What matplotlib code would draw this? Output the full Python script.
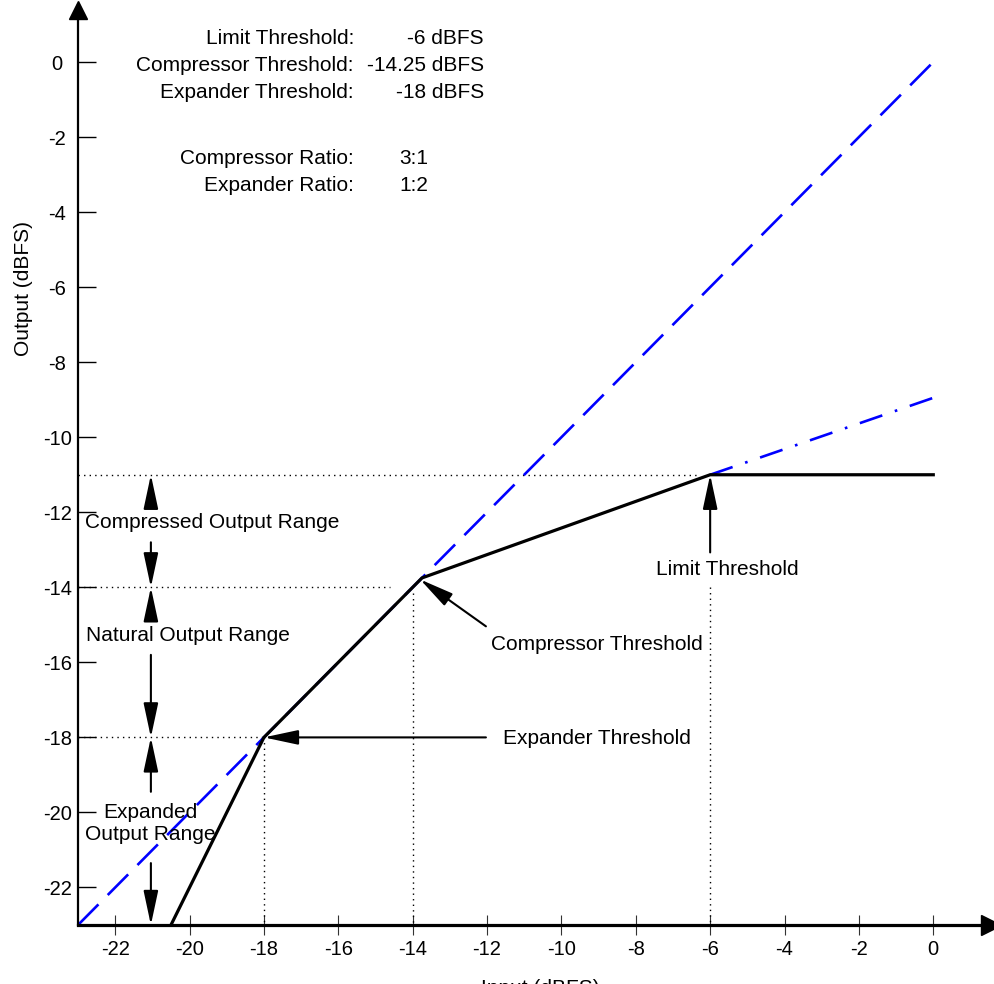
import matplotlib.pyplot as plt
import numpy as np

plt.rcParams["font.family"] = ["Liberation Sans", "DejaVu Sans"]

# transfer curve (input dBFS, output dBFS)
curve_in = [-20.5, -18, -13.75, -6, 0]
curve_out = [-23, -18, -13.75, -11, -11]
# reference lines
unity_in = [-23, 0]
unity_out = [-23, 0]
comp_ext_in = [-6, 0]
comp_ext_out = [-11, -8.95]

ticks = list(range(-22, 1, 2))

settings_labels = ["Limit Threshold:", "Compressor Threshold:", "Expander Threshold:"]
settings_values = ["-6 dBFS", "-14.25 dBFS", "-18 dBFS"]
ratio_labels = ["Compressor Ratio:", "Expander Ratio:"]
ratio_values = ["3:1", "1:2"]

XMIN, XMAX = -23, 1.66
YMIN, YMAX = -23, 1.52


def arrow(ax, start, end, lw=1.5):
    ax.annotate("", xy=end, xytext=start,
                arrowprops=dict(arrowstyle="-|>,head_length=1.5,head_width=0.32",
                                color="black", lw=lw, shrinkA=0, shrinkB=0,
                                mutation_scale=14))


def main():
    fig = plt.figure(figsize=(9.95, 9.84), dpi=100)
    ax = fig.add_axes([78 / 995, 59 / 984, 917 / 995, 920 / 984])
    ax.set_xlim(XMIN, XMAX)
    ax.set_ylim(YMIN, YMAX)
    for s in ("top", "right"):
        ax.spines[s].set_visible(False)
    ax.spines["left"].set_linewidth(1.6)
    ax.spines["bottom"].set_linewidth(2.3)
    ax.set_xticks(ticks)
    ax.set_yticks(ticks)
    ax.set_xticklabels([str(t) for t in ticks], fontsize=14.5)
    ax.set_yticklabels([str(t) for t in ticks], fontsize=14.5, ha="center")
    ax.tick_params(axis="x", direction="inout", length=14, width=0.8, pad=4, color="#333333")
    ax.tick_params(axis="y", direction="in", length=13, width=1, pad=15)

    # axis arrowheads
    ax.plot([XMAX - 0.12], [YMIN], marker=">", markersize=15, color="black", clip_on=False)
    ax.plot([XMIN], [YMAX - 0.12], marker="^", markersize=13, color="black", clip_on=False)

    ax.set_ylabel("Output (dBFS)", fontsize=15)
    ax.yaxis.set_label_coords(-0.049, 0.692)
    ax.set_xlabel("Input (dBFS)", fontsize=15)
    ax.xaxis.set_label_coords(0.504, -0.059)

    # dotted guides
    dot = dict(color="black", lw=1, ls=(0, (1, 3)))
    ax.plot([XMIN, -6.3], [-11, -11], **dot)
    ax.plot([XMIN, -14.6], [-14, -14], **dot)
    ax.plot([XMIN, -18], [-18, -18], **dot)
    ax.plot([-18, -18], [-18, YMIN], **dot)
    ax.plot([-14, -14], [-14.15, YMIN], **dot)
    ax.plot([-6, -6], [-14, YMIN], **dot)

    ax.plot(unity_in, unity_out, color="blue", lw=1.9, dashes=(11, 5))
    ax.plot(comp_ext_in, comp_ext_out, color="blue", lw=1.9, dashes=(9, 5, 1, 5))
    ax.plot(curve_in, curve_out, color="black", lw=2.3, solid_joinstyle="miter")

    fs = 15
    # threshold callouts
    arrow(ax, (-6, -13.07), (-6, -11.0))
    ax.text(-5.55, -13.52, "Limit Threshold", fontsize=fs, ha="center", va="center")
    arrow(ax, (-12.03, -15.04), (-13.8, -13.79))
    ax.text(-9.04, -15.52, "Compressor Threshold", fontsize=fs, ha="center", va="center")
    arrow(ax, (-12.03, -18.0), (-18.0, -18.0))
    ax.text(-9.04, -18.03, "Expander Threshold", fontsize=fs, ha="center", va="center")

    # output ranges
    xr = -21.04
    arrow(ax, (xr, -11.75), (xr, -11.0))
    arrow(ax, (xr, -12.8), (xr, -14.0))
    ax.text(-19.4, -12.27, "Compressed Output Range", fontsize=fs, ha="center", va="center")
    arrow(ax, (xr, -14.7), (xr, -14.0))
    arrow(ax, (xr, -15.8), (xr, -18.0))
    ax.text(-20.05, -15.28, "Natural Output Range", fontsize=fs, ha="center", va="center")
    arrow(ax, (xr, -19.45), (xr, -18.0))
    arrow(ax, (xr, -21.35), (xr, -23.0))
    ax.text(-21.05, -20.3, "Expanded\nOutput Range", fontsize=fs, ha="center", va="center",
            linespacing=1.2)

    # settings block
    rows_y = [0.62, -0.08, -0.80]
    for lab, val, y in zip(settings_labels, settings_values, rows_y):
        ax.text(-15.58, y, lab, fontsize=fs, ha="right", va="center")
        ax.text(-12.08, y, val, fontsize=fs, ha="right", va="center")
    for lab, val, y in zip(ratio_labels, ratio_values, [-2.58, -3.30]):
        ax.text(-15.58, y, lab, fontsize=fs, ha="right", va="center")
        ax.text(-14.37, y, val, fontsize=fs, ha="left", va="center")

    fig.savefig("out.png", dpi=100)


if __name__ == "__main__":
    main()
